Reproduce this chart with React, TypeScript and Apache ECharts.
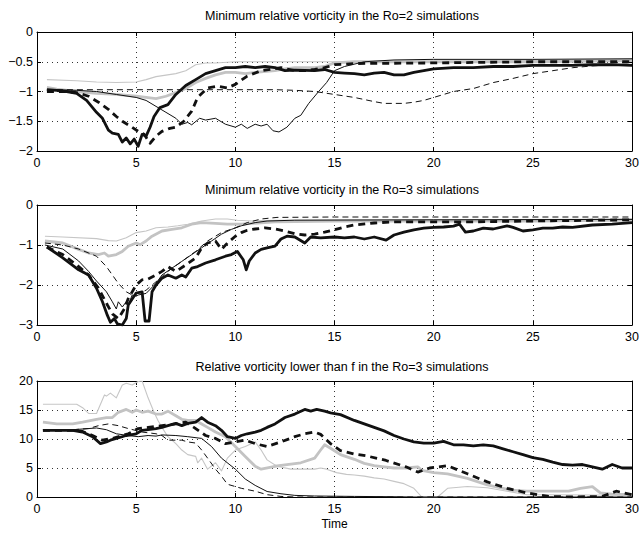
import React, { useEffect, useRef } from "react";
import * as echarts from "echarts";

// ---------- Titles / labels ----------
const titles = [
  "Minimum relative vorticity in the Ro=2 simulations",
  "Minimum relative vorticity in the Ro=3 simulations",
  "Relative vorticity lower than f in the Ro=3 simulations",
];
const xTitle = "Time";

// ---------- Panel 1 (Ro=2 minimum relative vorticity) ----------
const p1ThickSolid = [[0.5,-0.97],[1,-0.98],[1.5,-1.0],[2,-1.03],[2.5,-1.15],[3,-1.35],[3.3,-1.45],[3.6,-1.65],[3.8,-1.7],[4.1,-1.72],[4.3,-1.85],[4.5,-1.78],[4.7,-1.88],[4.9,-1.8],[5.1,-1.92],[5.3,-1.72],[5.5,-1.75],[5.7,-1.6],[5.9,-1.42],[6.2,-1.27],[6.6,-1.22],[7,-1.05],[7.5,-0.9],[8,-0.8],[8.5,-0.7],[9,-0.65],[9.5,-0.6],[10,-0.6],[10.5,-0.58],[11,-0.6],[11.5,-0.58],[12,-0.6],[12.5,-0.65],[13,-0.64],[14,-0.65],[14.5,-0.63],[15,-0.68],[15.5,-0.69],[16,-0.7],[16.5,-0.72],[17,-0.69],[17.5,-0.68],[18,-0.72],[18.5,-0.72],[19,-0.68],[19.5,-0.65],[20,-0.62],[21,-0.6],[22,-0.6],[23,-0.58],[24,-0.58],[25,-0.56],[26,-0.56],[27,-0.56],[28,-0.55],[29,-0.55],[30,-0.56]];
const p1ThickDash = [[0.5,-1.0],[1.5,-1.0],[2,-1.02],[2.6,-1.08],[3.1,-1.18],[3.6,-1.3],[4,-1.42],[4.3,-1.5],[4.7,-1.58],[5.1,-1.67],[5.4,-1.72],[5.7,-1.87],[6,-1.75],[6.3,-1.67],[6.7,-1.62],[7,-1.6],[7.4,-1.5],[7.8,-1.33],[8.1,-1.1],[8.6,-0.94],[9.1,-0.91],[9.6,-0.94],[10,-0.88],[10.6,-0.74],[11.3,-0.65],[12.3,-0.6],[13,-0.65],[13.5,-0.65],[14,-0.63],[14.5,-0.6],[15,-0.55],[16,-0.53],[20,-0.52],[25,-0.5],[30,-0.5]];
const p1ThinSolid = [[0.5,-0.97],[2,-0.98],[3,-1.0],[4,-1.05],[5,-1.1],[5.5,-1.15],[6,-1.25],[6.5,-1.35],[7,-1.45],[7.3,-1.55],[7.6,-1.52],[7.8,-1.56],[8.2,-1.45],[8.5,-1.48],[9,-1.45],[9.5,-1.55],[10,-1.6],[10.3,-1.55],[10.6,-1.62],[11,-1.55],[11.3,-1.58],[11.6,-1.55],[11.9,-1.66],[12.2,-1.68],[12.6,-1.6],[13,-1.45],[13.3,-1.4],[13.7,-1.2],[14.2,-1.0],[14.6,-0.85],[15,-0.65],[15.5,-0.58],[16.5,-0.5],[18,-0.47],[20,-0.46],[25,-0.46],[30,-0.45]];
const p1ThinDash = [[0.5,-0.97],[3,-0.97],[6,-0.97],[9,-0.97],[12,-0.97],[13,-0.98],[14,-1.0],[15,-1.05],[16,-1.1],[17,-1.17],[17.5,-1.2],[18.5,-1.2],[19,-1.18],[19.5,-1.15],[20,-1.1],[21,-1.0],[22,-0.95],[23,-0.85],[24,-0.78],[25,-0.7],[26,-0.65],[27,-0.6],[28,-0.57],[29,-0.55],[30,-0.54]];
const p1GrayThick = [[0.5,-0.93],[1,-0.96],[2,-1.0],[3,-1.03],[4,-1.05],[5,-1.08],[5.5,-1.1],[6,-1.12],[6.5,-1.08],[7,-1.02],[7.5,-0.95],[8,-0.85],[8.5,-0.78],[9,-0.72],[9.5,-0.68],[10,-0.68],[10.5,-0.7],[11,-0.68],[12,-0.65],[12.5,-0.62],[13,-0.6],[14,-0.6],[14.5,-0.58],[15,-0.52],[16,-0.5],[20,-0.5],[25,-0.5],[30,-0.48]];
const p1GrayThin = [[0.5,-0.8],[2,-0.82],[3,-0.84],[4,-0.85],[5,-0.84],[5.5,-0.8],[6,-0.75],[7,-0.7],[7.5,-0.65],[8,-0.55],[8.5,-0.52],[9,-0.52],[10,-0.5],[12,-0.5],[15,-0.5],[20,-0.5],[25,-0.48],[30,-0.46]];

// ---------- Panel 2 (Ro=3 minimum relative vorticity) ----------
const p2ThickSolid = [[0.5,-1.05],[1.3,-1.32],[2.1,-1.62],[2.6,-1.75],[3,-2.08],[3.3,-2.42],[3.55,-2.76],[3.7,-2.93],[3.9,-2.84],[4.05,-2.97],[4.3,-3.0],[4.5,-2.84],[4.6,-2.5],[4.8,-2.35],[5,-2.2],[5.3,-2.17],[5.45,-2.9],[5.65,-2.9],[5.8,-2.17],[6,-2.0],[6.3,-1.83],[6.6,-1.75],[7,-1.83],[7.3,-1.75],[7.5,-1.8],[7.8,-1.58],[8.1,-1.54],[8.5,-1.45],[9,-1.37],[9.5,-1.28],[9.8,-1.24],[10.1,-1.16],[10.4,-1.37],[10.55,-1.62],[10.7,-1.4],[11,-1.2],[11.3,-1.11],[11.6,-1.07],[12,-1.03],[12.3,-0.85],[12.6,-0.78],[13,-0.8],[13.5,-0.95],[13.8,-0.8],[14.3,-0.82],[15,-0.8],[15.5,-0.82],[16,-0.8],[16.5,-0.85],[17,-0.8],[17.6,-0.88],[18,-0.75],[18.5,-0.68],[19,-0.62],[19.5,-0.58],[20,-0.56],[20.5,-0.55],[21,-0.53],[21.3,-0.48],[21.6,-0.68],[22,-0.65],[22.5,-0.58],[23,-0.6],[23.7,-0.52],[24,-0.56],[24.5,-0.65],[25,-0.62],[25.5,-0.58],[26,-0.58],[26.5,-0.55],[27,-0.56],[28,-0.5],[29,-0.48],[30,-0.44]];
const p2ThickDash = [[0.5,-1.05],[1.3,-1.24],[2,-1.5],[2.6,-1.75],[3.1,-2.08],[3.55,-2.5],[3.8,-2.72],[4.1,-2.84],[4.4,-2.6],[4.6,-2.34],[5,-2.0],[5.3,-1.87],[5.6,-1.85],[6,-1.75],[6.3,-1.66],[6.6,-1.54],[7,-1.66],[7.5,-1.5],[8,-1.32],[8.3,-1.07],[8.6,-0.95],[9,-0.9],[9.3,-1.11],[9.6,-0.95],[10,-0.78],[10.3,-0.69],[10.6,-0.63],[11,-0.6],[11.5,-0.57],[12,-0.6],[12.5,-0.65],[13,-0.72],[13.5,-0.75],[14,-0.73],[14.5,-0.68],[15,-0.62],[15.5,-0.55],[16,-0.5],[17,-0.45],[18,-0.42],[20,-0.42],[22,-0.42],[25,-0.4],[30,-0.37]];
const p2ThinSolid = [[0.4,-1.0],[1.3,-1.1],[2.1,-1.4],[2.6,-1.66],[3,-1.9],[3.5,-2.17],[3.8,-2.42],[4,-2.6],[4.1,-2.42],[4.3,-2.55],[4.5,-2.42],[4.6,-2.5],[4.8,-2.25],[5,-2.28],[5.1,-2.25],[5.5,-2.21],[6,-1.96],[6.3,-1.75],[6.8,-1.58],[7.3,-1.41],[7.8,-1.24],[8.3,-1.07],[8.8,-0.9],[9.3,-0.73],[9.8,-0.61],[10.3,-0.52],[11,-0.44],[11.6,-0.4],[13,-0.38],[20,-0.37],[30,-0.36]];
const p2ThinDash = [[0.4,-0.95],[1.3,-1.0],[2.1,-1.1],[3,-1.28],[3.5,-1.54],[3.8,-1.75],[4.1,-1.96],[4.5,-2.17],[4.8,-2.25],[5.1,-2.21],[5.5,-2.13],[6,-1.92],[6.6,-1.66],[7.3,-1.41],[8,-1.16],[8.6,-0.9],[9.3,-0.69],[10,-0.57],[10.6,-0.44],[11.3,-0.35],[12.1,-0.31],[15,-0.3],[20,-0.3],[25,-0.3],[30,-0.3]];
const p2GrayThick = [[0.4,-0.9],[1.3,-0.95],[2.1,-1.11],[2.6,-1.2],[3.1,-1.24],[3.4,-1.2],[3.6,-1.28],[4,-1.24],[4.3,-1.16],[4.6,-1.03],[5,-0.95],[5.2,-0.99],[5.5,-0.9],[5.8,-0.78],[6.3,-0.65],[6.8,-0.61],[7.3,-0.57],[7.8,-0.48],[8.3,-0.44],[9,-0.46],[9.6,-0.48],[10.3,-0.48],[12,-0.42],[15,-0.4],[20,-0.4],[25,-0.4],[30,-0.38]];
const p2GrayThin = [[0.4,-0.78],[1.3,-0.8],[3,-0.84],[3.6,-0.89],[4,-0.9],[4.5,-0.82],[5,-0.69],[5.5,-0.65],[6,-0.57],[6.6,-0.55],[7.1,-0.52],[7.6,-0.48],[8.3,-0.4],[9,-0.35],[9.6,-0.35],[10.1,-0.38],[10.8,-0.4],[12,-0.38],[20,-0.37],[30,-0.35]];

// ---------- Panel 3 (relative vorticity lower than f, Ro=3) ----------
const p3ThickSolid = [[0.3,11.5],[1.8,11.5],[2.3,11.2],[2.8,10.4],[3.2,9.2],[3.5,9.5],[3.7,9.8],[4,10.1],[4.5,10.6],[5,10.9],[5.3,11.5],[6,11.8],[6.3,12.0],[6.6,12.3],[7,12.7],[7.3,12.3],[7.6,12.7],[8,12.9],[8.3,13.7],[8.6,12.9],[9,12.3],[9.3,11.5],[9.6,10.4],[10,10.1],[10.3,10.6],[10.6,10.9],[11,11.2],[11.3,11.5],[11.6,12.0],[12,12.6],[12.5,13.7],[13,14.3],[13.5,15.1],[13.8,14.8],[14.1,15.1],[14.5,14.8],[14.8,14.5],[15.3,14.2],[16,13.2],[16.5,12.6],[17,12.0],[17.5,11.4],[18,10.6],[18.5,10.0],[19,9.5],[19.5,9.3],[20,9.3],[20.5,9.6],[21,9.0],[21.5,9.0],[22,8.8],[22.5,9.0],[23,8.8],[23.5,8.3],[24,7.8],[24.5,7.3],[25,6.8],[25.5,6.5],[26,6.0],[26.5,5.6],[27,5.5],[27.5,5.6],[28,5.2],[28.5,4.8],[29,5.6],[29.5,5.0],[30,5.0]];
const p3ThickDash = [[0.3,11.5],[1.8,11.5],[2.3,11.3],[2.8,10.6],[3.3,9.8],[3.8,10.1],[4.3,10.6],[4.6,10.9],[5.1,11.8],[5.6,12.0],[6.3,12.3],[7,12.6],[7.5,12.9],[8,11.8],[8.5,10.6],[9,10.1],[9.5,9.2],[10,9.5],[10.5,9.8],[11,9.2],[11.6,8.7],[12.3,9.5],[13,10.4],[13.5,10.9],[14,11.2],[14.3,10.8],[14.8,9.2],[15.3,8.0],[16,7.4],[16.6,7.1],[17.6,6.3],[18.6,5.2],[19.2,4.3],[19.8,5.0],[20.7,5.4],[21.7,4.0],[22.7,2.6],[23.7,1.5],[24.7,0.7],[25.8,0.1],[27,0.0],[28.5,0.1],[29.2,1.0],[30,0.4]];
const p3ThinSolid = [[0.3,11.6],[1.8,11.6],[3,11.9],[3.5,11.6],[4,10.9],[4.6,10.6],[5.1,10.4],[5.6,10.6],[6,10.5],[6.3,10.7],[7,10.6],[7.6,10.4],[8.3,10.1],[8.8,8.7],[9.3,6.7],[10,4.8],[10.5,3.1],[11,2.0],[11.6,0.95],[12.3,0.56],[13,0.28],[14,0.17],[16,0.1],[18,0.05],[19,0],[30,0]];
const p3ThinDash = [[0.3,11.6],[1.8,11.6],[2.6,11.8],[3.1,12.3],[3.6,12.6],[4.1,12.3],[4.6,11.8],[5.3,11.2],[6,10.9],[6.3,10.6],[6.6,9.8],[7.3,9.8],[7.6,9.5],[8,9.3],[8.3,8.1],[8.6,6.7],[9,4.8],[9.3,3.6],[9.6,2.2],[10.3,1.5],[11,1.0],[11.6,0.4],[12.3,0.1],[13,0],[30,0]];
const p3GrayThick = [[0.3,12.9],[1,12.6],[1.8,12.6],[2.3,12.9],[3,13.4],[3.5,13.7],[3.8,13.7],[4.1,14.6],[4.5,15.1],[4.8,14.6],[5,15.0],[5.3,14.6],[5.6,14.8],[6,14.3],[6.3,14.3],[6.6,14.8],[7,14.0],[7.3,13.4],[7.6,13.2],[8,13.2],[8.3,12.6],[8.6,12.0],[9,11.2],[9.5,10.4],[10,8.7],[10.5,7.0],[11,5.3],[11.3,4.8],[12,5.3],[12.6,5.6],[13.3,5.9],[14,6.7],[14.3,8.1],[14.5,9.0],[14.8,8.4],[15.3,7.3],[16,6.5],[16.5,5.8],[17,5.4],[17.5,5.2],[18,5.0],[18.6,5.0],[19.2,5.2],[19.4,4.6],[20,4.2],[20.7,4.0],[21.7,3.2],[22.7,2.1],[23.9,1.2],[24.7,1.0],[25.8,1.0],[26.8,1.0],[27.4,1.5],[28,1.8],[28.4,0.7],[29,0.5],[30,0.4]];
const p3GrayThin = [[0.3,16.0],[2,16.0],[2.3,15.4],[2.6,14.4],[3,14.4],[3.2,16.0],[3.4,17.6],[3.5,17.4],[3.7,17.9],[4,17.1],[4.3,19.3],[4.5,19.6],[4.8,19.3],[5.1,19.9],[5.3,20.0],[5.6,17.1],[5.9,14.6],[6.1,13.2],[6.3,12.0],[6.6,10.4],[7,9.2],[7.3,8.1],[7.6,7.3],[8,7.0],[8.1,5.9],[8.3,6.7],[8.6,4.8],[9,5.9],[9.3,4.5],[9.6,6.7],[10,8.1],[10.5,8.7],[11,9.5],[11.3,8.1],[11.6,6.4],[12.1,5.3],[12.8,4.8],[13.5,4.8],[14,4.8],[14.3,5.0],[14.6,4.8],[15.1,4.2],[15.6,3.9],[16,3.8],[16.5,3.6],[17,3.3],[17.5,3.1],[18,2.7],[18.5,2.3],[19,1.5],[19.4,0],[20.2,0],[20.7,1.5],[21.7,1.8],[22.7,1.6],[23.7,1.0],[24.7,0.4],[25.8,0.4],[30,0.3]];

// ---------- Axes ranges / ticks ----------
const xRange = [0, 30];
const xInterval = 5;
const yRanges = [[-2, 0], [-3, 0], [0, 20]];
const yIntervals = [0.5, 1, 5];

const FONT = "'Liberation Sans', Arial, Helvetica, sans-serif";
const GRIDS = [
  { left: 37, width: 600, top: 32, height: 119 },
  { left: 37, width: 600, top: 205, height: 120 },
  { left: 37, width: 600, top: 381, height: 116 },
];
const TITLE_TOPS = [4, 178, 355];

const styles = {
  thickSolid: { color: "#111", width: 2.8, type: "solid" },
  thickDash: { color: "#111", width: 2.8, type: [7, 5] },
  thinSolid: { color: "#111", width: 1, type: "solid" },
  thinDash: { color: "#111", width: 1, type: [6, 4] },
  grayThick: { color: "#c3c3c3", width: 2.8, type: "solid" },
  grayThin: { color: "#c6c6c6", width: 1.1, type: "solid" },
};

const panels = [
  { thinDash: p1ThinDash, thinSolid: p1ThinSolid, grayThin: p1GrayThin, grayThick: p1GrayThick, thickDash: p1ThickDash, thickSolid: p1ThickSolid },
  { thinDash: p2ThinDash, thinSolid: p2ThinSolid, grayThin: p2GrayThin, grayThick: p2GrayThick, thickDash: p2ThickDash, thickSolid: p2ThickSolid },
  { thinDash: p3ThinDash, thinSolid: p3ThinSolid, grayThin: p3GrayThin, grayThick: p3GrayThick, thickDash: p3ThickDash, thickSolid: p3ThickSolid },
];
const drawOrder = ["grayThin", "grayThick", "thinDash", "thinSolid", "thickDash", "thickSolid"];

const fmtNum = (v: number) => (v < 0 ? "\u2212" + String(Math.abs(v)) : String(v));

function buildOption() {
  const xAxis: any[] = [];
  const yAxis: any[] = [];
  const series: any[] = [];
  const title: any[] = [];
  GRIDS.forEach((g, i) => {
    const tick = { show: true, inside: true, length: 4, lineStyle: { color: "#000", width: 1 } };
    xAxis.push({
      type: "value", gridIndex: i, min: xRange[0], max: xRange[1], interval: xInterval,
      axisLine: { show: true, onZero: false, lineStyle: { color: "#000", width: 1 } },
      axisTick: tick,
      axisLabel: { color: "#000", fontSize: 12.5, fontFamily: FONT, margin: 5, formatter: fmtNum },
      splitLine: { show: true, lineStyle: { color: "#333", width: 1, type: [1, 4] } },
      name: i === 2 ? xTitle : "",
      nameLocation: "middle", nameGap: 21,
      nameTextStyle: { color: "#000", fontSize: 12, fontFamily: FONT },
    });
    xAxis.push({
      type: "value", gridIndex: i, min: xRange[0], max: xRange[1], interval: xInterval, position: "top",
      axisLine: { show: true, onZero: false, lineStyle: { color: "#000", width: 1 } },
      axisTick: tick, axisLabel: { show: false }, splitLine: { show: false },
    });
    yAxis.push({
      type: "value", gridIndex: i, min: yRanges[i][0], max: yRanges[i][1], interval: yIntervals[i],
      axisLine: { show: true, onZero: false, lineStyle: { color: "#000", width: 1 } },
      axisTick: tick,
      axisLabel: { color: "#000", fontSize: 12.5, fontFamily: FONT, margin: 4, formatter: fmtNum },
      splitLine: { show: true, lineStyle: { color: "#333", width: 1, type: [1, 4] } },
    });
    yAxis.push({
      type: "value", gridIndex: i, min: yRanges[i][0], max: yRanges[i][1], interval: yIntervals[i], position: "right",
      axisLine: { show: true, onZero: false, lineStyle: { color: "#000", width: 1 } },
      axisTick: tick, axisLabel: { show: false }, splitLine: { show: false },
    });
    title.push({
      text: titles[i], left: g.left + g.width / 2, top: TITLE_TOPS[i], textAlign: "center",
      textStyle: { color: "#000", fontSize: 12.5, fontWeight: "normal", fontFamily: FONT },
    });
    drawOrder.forEach((key) => {
      const st = (styles as any)[key];
      series.push({
        type: "line", xAxisIndex: i * 2, yAxisIndex: i * 2,
        data: (panels[i] as any)[key], showSymbol: false, symbol: "none",
        clip: true, silent: true,
        lineStyle: { color: st.color, width: st.width, type: st.type, cap: "butt", join: "round" },
      });
    });
  });
  return {
    animation: false,
    backgroundColor: "#fff",
    title,
    grid: GRIDS.map((g) => ({ ...g, containLabel: false })),
    xAxis, yAxis, series,
  };
}

export default function App() {
  const ref = useRef<HTMLDivElement>(null);
  useEffect(() => {
    if (!ref.current) return;
    const chart = echarts.init(ref.current, undefined, { renderer: "svg" });
    chart.setOption(buildOption() as any);
    return () => chart.dispose();
  }, []);
  return (
    <div
      ref={ref}
      style={{ position: "fixed", left: 0, top: 0, width: 642, height: 533, background: "#fff" }}
    />
  );
}
